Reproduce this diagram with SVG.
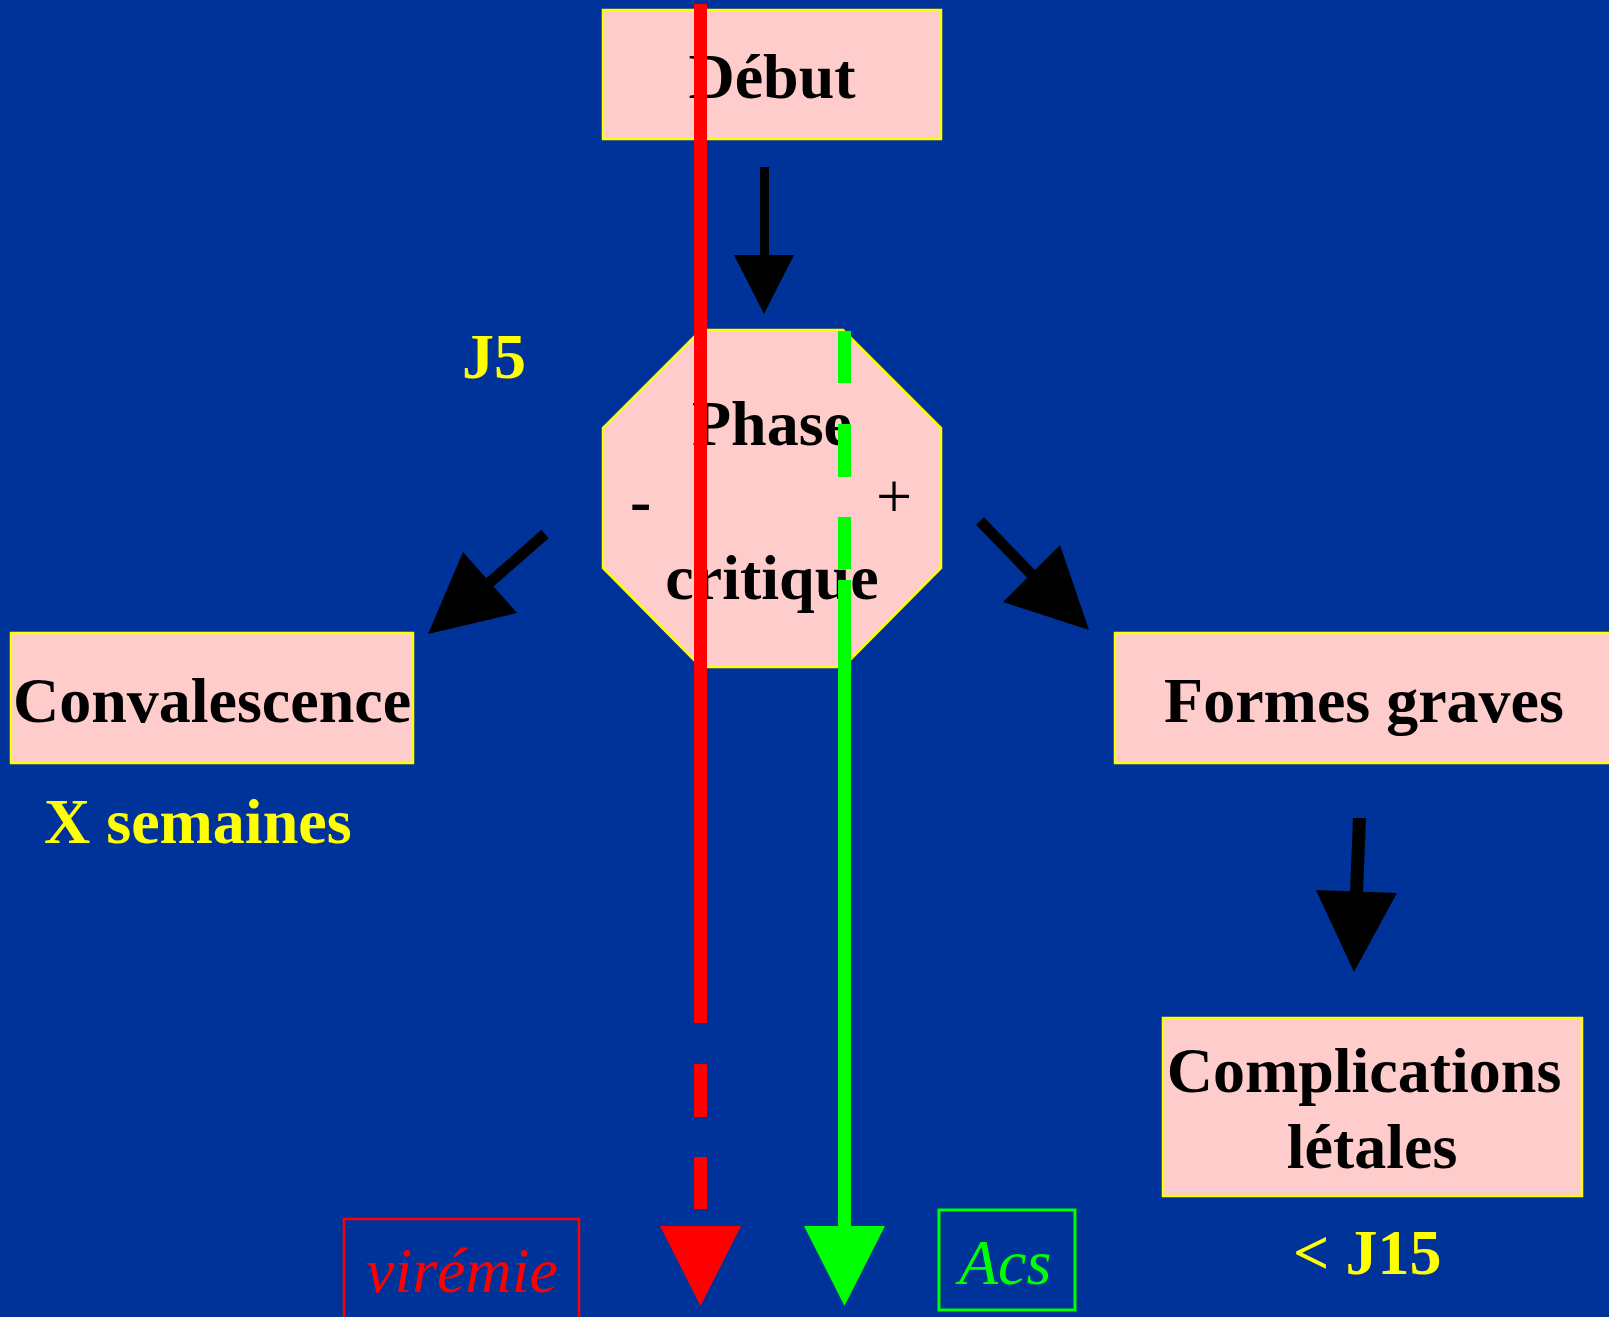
<svg xmlns="http://www.w3.org/2000/svg" width="1609" height="1317" viewBox="0 0 1609 1317">
  <defs>
    <style>
      .node { fill: #FFCCCC; stroke: #FFFF00; stroke-width: 2.5; }
      .lbl { font-family: "Liberation Serif", "Times New Roman", serif; font-weight: bold; font-size: 64px; fill: #000000; text-anchor: middle; }
      .ylbl { font-family: "Liberation Serif", "Times New Roman", serif; font-weight: bold; font-size: 64px; fill: #FFFF00; }
      .ital { font-family: "Liberation Serif", "Times New Roman", serif; font-style: italic; font-size: 64px; }
      .arrow { fill: #000000; }
      .shaft { stroke: #000000; fill: none; }
    </style>
  </defs>
  <rect x="0" y="0" width="1609" height="1317" fill="#003399"/>

  <g id="debut">
    <rect class="node" x="603" y="10" width="338" height="129"/>
    <text class="lbl" x="772" y="98">Début</text>
  </g>

  <g id="phase-critique">
    <polygon class="node" points="701,330 843,330 941,428 941,568 843,667 701,667 603,568 603,428"/>
    <text class="lbl" x="772" y="445">Phase</text>
    <text class="lbl" x="772" y="599">critique</text>
    <text class="lbl" x="630" y="522" style="text-anchor:start">-</text>
    <text x="876" y="518" style="font-family:'Liberation Serif','Times New Roman',serif;font-size:64px;fill:#000">+</text>
  </g>

  <g id="convalescence">
    <rect class="node" x="11" y="633" width="402" height="130"/>
    <text class="lbl" x="212" y="722">Convalescence</text>
  </g>

  <g id="formes-graves">
    <rect class="node" x="1115" y="633" width="500" height="130"/>
    <text class="lbl" x="1364" y="722">Formes graves</text>
  </g>

  <g id="complications">
    <rect class="node" x="1163" y="1018" width="419" height="178"/>
    <text class="lbl" x="1364" y="1092">Complications</text>
    <text class="lbl" x="1372" y="1168">létales</text>
  </g>

  <g id="labels">
    <text class="ylbl" x="462" y="378">J5</text>
    <text class="ylbl" x="44" y="843">X semaines</text>
    <text class="ylbl" x="1293" y="1274">&lt; J15</text>
  </g>

  <g id="viremie">
    <rect x="344" y="1219" width="235" height="120" fill="none" stroke="#FF0000" stroke-width="2.5"/>
    <text class="ital" x="366" y="1292" fill="#FF0000">virémie</text>
  </g>

  <g id="acs">
    <rect x="939" y="1210" width="136" height="100" fill="none" stroke="#00FF00" stroke-width="3"/>
    <text class="ital" x="959" y="1284" fill="#00FF00">Acs</text>
  </g>

  <g id="connectors">
    <!-- Début -> Phase critique -->
    <line class="shaft" x1="764.5" y1="167" x2="764.5" y2="258" stroke-width="9"/>
    <polygon class="arrow" points="734,255 794,255 764,314"/>
    <!-- Phase critique -> Convalescence -->
    <line class="shaft" x1="545" y1="534" x2="488" y2="584" stroke-width="11"/>
    <polygon class="arrow" points="463,552 517,613 428,634"/>
    <!-- Phase critique -> Formes graves -->
    <line class="shaft" x1="980" y1="521" x2="1035" y2="578" stroke-width="11"/>
    <polygon class="arrow" points="1003,602 1060,545 1089,630"/>
    <!-- Formes graves -> Complications -->
    <polygon class="arrow" points="1353,818 1366,818 1363,892 1350,892"/>
    <polygon class="arrow" points="1316,890 1397,893 1354,972"/>

    <!-- virémie line (red) -->
    <path d="M700.5,4 V1023 M700.5,1064 V1117 M700.5,1157 V1209" stroke="#FF0000" stroke-width="13" fill="none"/>
    <polygon points="660,1226 741,1226 700.5,1306" fill="#FF0000"/>
    <!-- Acs line (green) -->
    <path d="M844.5,331 V383 M844.5,424 V477 M844.5,517 V569 M844.5,580 V1228" stroke="#00FF00" stroke-width="13" fill="none"/>
    <polygon points="804,1226 885,1226 844.5,1306" fill="#00FF00"/>
  </g>
</svg>
